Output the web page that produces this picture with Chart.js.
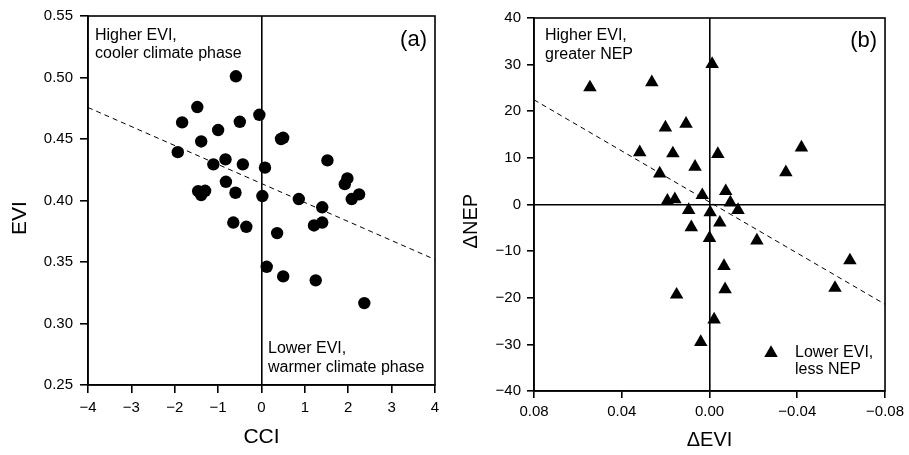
<!DOCTYPE html>
<html><head><meta charset="utf-8">
<script src="https://cdn.jsdelivr.net/npm/chart.js@4.4.0/dist/chart.umd.min.js"></script>
<style>
html,body{margin:0;padding:0;background:#fff;}
#wrap{position:relative;width:909px;height:455px;overflow:hidden;}
#c1{position:absolute;left:0;top:0;}
#c2{position:absolute;left:450px;top:0;}
</style></head><body>
<div id="wrap">
<canvas id="c1" width="450" height="455"></canvas>
<canvas id="c2" width="459" height="455"></canvas>
</div>
<script>
// ---- Panel (a) data ----
const cciValues = [-0.59,-1.48,-1.83,-0.05,-0.5,-1.0,-1.39,0.45,0.5,-1.93,-0.83,-1.11,-0.43,1.52,0.08,-0.82,1.98,1.92,-1.46,-1.39,-1.3,-0.6,0.02,0.86,2.25,2.08,1.4,-0.65,-0.35,1.21,1.4,0.36,0.12,0.5,1.25,2.37];
const eviValues = [0.501,0.476,0.4635,0.4697,0.464,0.4573,0.448,0.450,0.451,0.4393,0.4334,0.4294,0.4294,0.4326,0.4267,0.4152,0.4179,0.4133,0.4076,0.4044,0.4079,0.4063,0.4036,0.4012,0.405,0.4012,0.3945,0.3821,0.3786,0.3797,0.3821,0.3735,0.3461,0.3383,0.3351,0.3166];
const fitCci = [-4, 4];
const fitEvi = [0.4756, 0.352];
const cciTicks = [-4,-3,-2,-1,0,1,2,3,4];
const eviTicks = [0.25,0.30,0.35,0.40,0.45,0.50,0.55];

// ---- Panel (b) data ----
const dEviValues = [0.0545,0.0263,-0.0012,0.0107,0.0201,0.0318,0.0167,-0.0038,-0.0419,0.0066,0.0227,-0.0348,0.0033,-0.0074,0.0192,0.0158,-0.0095,0.0095,-0.0003,-0.013,-0.0047,0.0083,0.0,-0.0216,-0.064,-0.0066,-0.0071,-0.0572,0.015,-0.0021,0.004];
const dNepValues = [25.1,26.2,30.1,17.3,16.5,11.2,10.95,10.8,12.2,8.1,6.65,6.9,2.0,2.85,0.8,1.1,0.4,-1.2,-1.7,-1.2,-3.9,-4.9,-7.2,-7.75,-12.0,-13.2,-18.2,-17.9,-19.35,-24.7,-29.5];
const fitDEvi = [0.08, -0.08];
const fitDNep = [22.45, -21.4];
const dEviTicks = [0.08,0.04,0.00,-0.04,-0.08];
const dNepTicks = [-40,-30,-20,-10,0,10,20,30,40];

const FONT = '"Liberation Sans", Arial, Helvetica, sans-serif';
const TICK = 15;
const NOTE = 16;

function fmt(v, d){
  if (Math.abs(v) < 1e-9) v = 0;
  return v.toFixed(d).replace('-', '\u2212');
}
function zeroColor(ctx){
  return Math.abs(ctx.tick.value) < 1e-9 ? '#000' : 'rgba(0,0,0,0)';
}

const annot = {
  id: 'annot',
  afterDraw(chart, args, opts){
    const {ctx, chartArea: a} = chart;
    ctx.save();
    ctx.strokeStyle = '#000';
    ctx.lineWidth = 1.6;
    ctx.strokeRect(a.left, a.top, a.right - a.left, a.bottom - a.top);
    ctx.fillStyle = '#000';
    ctx.textBaseline = 'alphabetic';
    for (const t of opts.texts || []) {
      ctx.font = t.size + 'px ' + FONT;
      ctx.textAlign = t.align || 'left';
      const x = t.fromRight ? a.right - t.dx : a.left + t.dx;
      const y = t.fromBottom ? a.bottom - t.dy : a.top + t.dy;
      ctx.fillText(t.text, x, y);
    }
    if (opts.marker) {
      const m = opts.marker;
      const cx = a.right - m.dx, cy = a.bottom - m.dy, r = m.r;
      ctx.beginPath();
      ctx.moveTo(cx, cy - r);
      ctx.lineTo(cx + Math.sin(2*Math.PI/3)*r, cy + r/2);
      ctx.lineTo(cx - Math.sin(2*Math.PI/3)*r, cy + r/2);
      ctx.closePath();
      ctx.fill();
    }
    ctx.restore();
  }
};

function axis(opts){
  return Object.assign({
    type: 'linear',
    border: {display: true, color:'#000', width: 1.6}
  }, opts);
}

// ---- Chart (a) ----
new Chart(document.getElementById('c1'), {
  type: 'scatter',
  data: {
    datasets: [
      {data: cciValues.map((x,i)=>({x, y: eviValues[i]})), pointStyle:'circle', pointRadius:6.2, pointHoverRadius:6.2, backgroundColor:'#000', borderWidth:0},
      {type:'line', showLine:true, data: fitCci.map((x,i)=>({x, y: fitEvi[i]})), borderColor:'#000', borderWidth:1, borderDash:[5,4], pointRadius:0, fill:false}
    ]
  },
  options: {
    responsive:false, animation:false,
    layout:{padding:{top:13, right:15, left:0, bottom:0}},
    plugins:{legend:{display:false}, tooltip:{enabled:false},
      annot:{texts:[
        {text:'Higher EVI,', size:NOTE, dx:7, dy:24},
        {text:'cooler climate phase', size:NOTE, dx:7, dy:42},
        {text:'(a)', size:22, dx:8, dy:30, fromRight:true, align:'right'},
        {text:'Lower EVI,', size:NOTE, dx:180, dy:32, fromBottom:true},
        {text:'warmer climate phase', size:NOTE, dx:180, dy:13, fromBottom:true}
      ]}
    },
    scales:{
      x: axis({min:-4, max:4,
        afterBuildTicks: s => { s.ticks = cciTicks.map(v=>({value:v})); },
        ticks:{color:'#000', font:{family:FONT, size:TICK}, padding:6, callback:v=>fmt(v,0)},
        grid:{color: zeroColor, lineWidth:1.6, tickLength:8, tickColor:'#000', tickWidth:1.6},
        title:{display:true, text:'CCI', color:'#000', font:{family:FONT, size:21}, padding:{top:0, bottom:5}},
        afterFit: s => { s.height = 70; }
      }),
      y: axis({min:0.25, max:0.55,
        afterBuildTicks: s => { s.ticks = eviTicks.map(v=>({value:v})); },
        ticks:{color:'#000', font:{family:FONT, size:TICK}, padding:7, callback:v=>fmt(v,2)},
        grid:{color: zeroColor, lineWidth:1.6, tickLength:8, tickColor:'#000', tickWidth:1.6},
        title:{display:true, text:'EVI      ', color:'#000', font:{family:FONT, size:21}, padding:{top:8, bottom:0}},
        afterFit: s => { s.width = 88; }
      })
    }
  },
  plugins:[annot]
});

// ---- Chart (b) ----
new Chart(document.getElementById('c2'), {
  type: 'scatter',
  data: {
    datasets: [
      {data: dEviValues.map((x,i)=>({x, y: dNepValues[i]})), pointStyle:'triangle', pointRadius:7.8, pointHoverRadius:7.8, backgroundColor:'#000', borderWidth:0},
      {type:'line', showLine:true, data: fitDEvi.map((x,i)=>({x, y: fitDNep[i]})), borderColor:'#000', borderWidth:1, borderDash:[5,4], pointRadius:0, fill:false}
    ]
  },
  options: {
    responsive:false, animation:false,
    layout:{padding:{top:18, right:20, left:0, bottom:0}},
    plugins:{legend:{display:false}, tooltip:{enabled:false},
      annot:{texts:[
        {text:'Higher EVI,', size:NOTE, dx:11, dy:22},
        {text:'greater NEP', size:NOTE, dx:11, dy:41},
        {text:'(b)', size:22, dx:8, dy:29, fromRight:true, align:'right'},
        {text:'Lower EVI,', size:NOTE, dx:90, dy:34, fromBottom:true, fromRight:true},
        {text:'less NEP', size:NOTE, dx:90, dy:17, fromBottom:true, fromRight:true}
      ], marker:{dx:114, dy:38, r:7.8}}
    },
    scales:{
      x: axis({min:-0.08, max:0.08, reverse:true,
        afterBuildTicks: s => { s.ticks = dEviTicks.map(v=>({value:v})); },
        ticks:{color:'#000', font:{family:FONT, size:TICK}, padding:5, callback:v=>fmt(v,2)},
        grid:{color: zeroColor, lineWidth:1.6, tickLength:7, tickColor:'#000', tickWidth:1.6},
        title:{display:true, text:'\u0394EVI', color:'#000', font:{family:FONT, size:20}, padding:{top:0, bottom:3}},
        afterFit: s => { s.height = 64; }
      }),
      y: axis({min:-40, max:40,
        afterBuildTicks: s => { s.ticks = dNepTicks.map(v=>({value:v})); },
        ticks:{color:'#000', font:{family:FONT, size:TICK}, padding:6, callback:v=>fmt(v,0)},
        grid:{color: zeroColor, lineWidth:1.6, tickLength:7, tickColor:'#000', tickWidth:1.6},
        title:{display:true, text:'\u0394NEP      ', color:'#000', font:{family:FONT, size:20}, padding:{top:9, bottom:0}},
        afterFit: s => { s.width = 84; }
      })
    }
  },
  plugins:[annot]
});
</script>
</body></html>
